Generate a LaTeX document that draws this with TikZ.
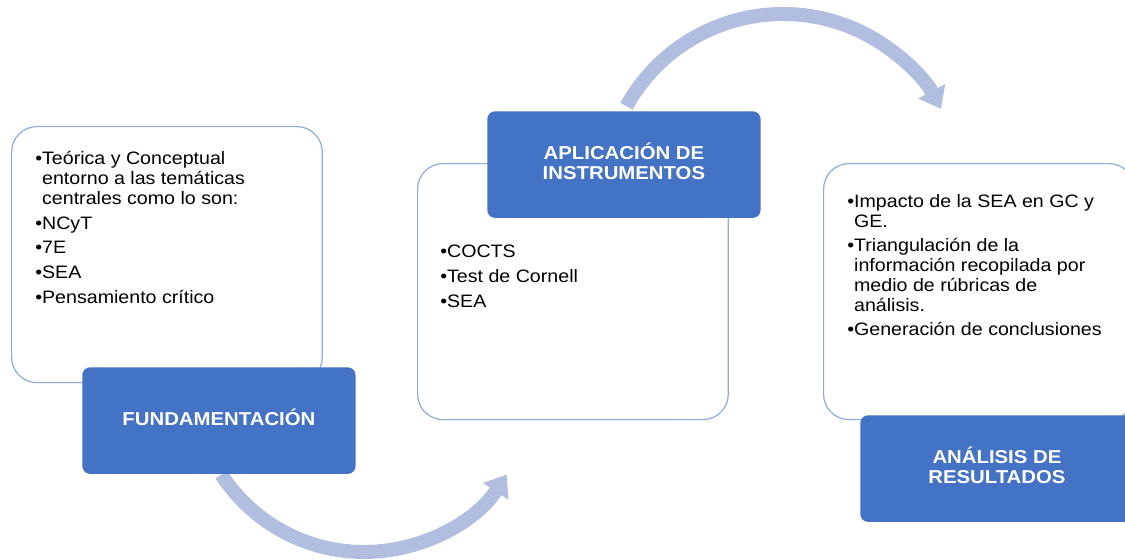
\documentclass[tikz,border=0pt]{standalone}
\usepackage{fontspec}
\setmainfont[FakeStretch=1.09]{Liberation Sans}
\usetikzlibrary{arrows.meta}

\begin{document}
\begin{tikzpicture}[x=0.75pt,y=0.75pt,yscale=-1,
	listbox/.style={draw={rgb, 255:red, 143; green, 170; blue, 220 },line width=0.9pt,fill=white,rounded corners=19pt,inner sep=0pt,anchor=north west,minimum width=233pt,minimum height=192pt},
	stagebox/.style={fill={rgb, 255:red, 68; green, 114; blue, 196 },rounded corners=6pt,inner sep=0pt,anchor=north west,minimum width=205pt,minimum height=80pt,text depth=5pt,text=white,align=center,font=\fontsize{14}{14.5}\selectfont\bfseries},
	itemtext/.style={anchor=base west,inner sep=0pt,align=left,font=\fontsize{13.5}{15}\selectfont},
	flow/.style={draw={rgb, 255:red, 177; green, 190; blue, 223 },line width=10.5pt,-{Triangle[length=15pt,width=22pt]}}]
				\useasboundingbox (0,0) rectangle (1125,560);
				
				%Curved Arrows
				\coordinate (lowarc) at (364,382);
				\coordinate (toparc) at (783,193);
				\draw [flow] (lowarc) ++(147:170) arc [start angle=147, end angle=33, radius=170];
				\draw [flow] (toparc) ++(209:179) arc [start angle=209, end angle=332, radius=179];
				
				%Shape: Rounded Rect
				\node [listbox] (fundbox) at (11,126) {};
				\node [listbox] (aplbox) at (417,163) {};
				\node [listbox] (anabox) at (823,163) {};
				
				%Shape: Rounded Rect
				\node [stagebox] (fundstage) at (82,367) {FUNDAMENTACIÓN};
				\node [stagebox] (aplstage) at (487,111) {APLICACIÓN DE\\INSTRUMENTOS};
				\node [stagebox] (anastage) at (860,415) {ANÁLISIS DE\\RESULTADOS};
				
				%Text (anchored at the last line)
				\node [itemtext] (fundlist) at (35,303) {•Teórica y Conceptual\\\hphantom{•}entorno a las temáticas\\\hphantom{•}centrales como lo son:\\[3.5pt]•NCyT\\[3.5pt]•7E\\[3.5pt]•SEA\\[3.5pt]•Pensamiento crítico};
				\node [itemtext] (apllist) at (440,307) {•COCTS\\[3.5pt]•Test de Cornell\\[3.5pt]•SEA};
				\node [itemtext] (analist) at (847,335) {•Impacto de la SEA en GC y\\\hphantom{•}GE.\\[3pt]•Triangulación de la\\\hphantom{•}información recopilada por\\\hphantom{•}medio de rúbricas de\\\hphantom{•}análisis.\\[3pt]•Generación de conclusiones};
				
			\end{tikzpicture}
\end{document}
